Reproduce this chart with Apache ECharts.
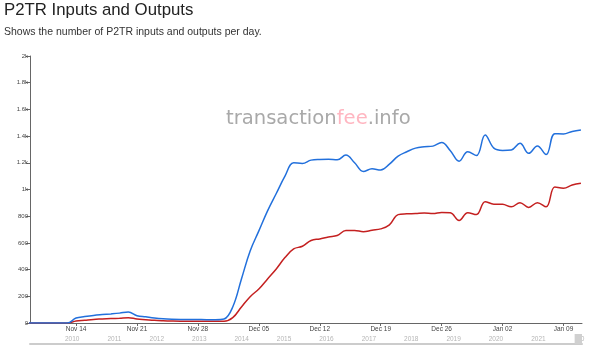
<!DOCTYPE html>
<html>
<head>
<meta charset="utf-8">
<script src="https://cdn.jsdelivr.net/npm/echarts@6/dist/echarts.min.js"></script>
<style>
html, body { margin: 0; padding: 0; background: #fff; }
#chart { width: 602px; height: 355px; }
</style>
</head>
<body>
<div id="chart"></div>
<script>
// daily values, Nov 8 2021 .. Jan 11 2022
var firstDay = '2021-11-08';
var outputs = [0, 0, 0, 0, 0, 0,
	37, 48, 57, 63, 68, 74, 82, 55, 46, 37, 31, 28, 27, 27, 26, 25, 25,
	30, 120, 330, 540, 690, 840, 970, 1100, 1200, 1195, 1220, 1225, 1226, 1222, 1258, 1200, 1135, 1155,
	1146, 1190, 1250, 1283, 1310, 1320, 1325, 1352, 1290, 1212, 1283, 1255, 1408,
	1310, 1293, 1296, 1346, 1271, 1326, 1262, 1418, 1416, 1435, 1446];
var inputs = [0, 0, 0, 0, 0, 0,
	15, 21, 27, 30, 33, 36, 40, 30, 25, 20, 17, 15, 14, 14, 14, 13, 13,
	13, 40, 120, 197, 255, 330, 405, 490, 555, 575, 618, 630, 645, 655, 693, 693, 684, 695,
	705, 735, 812, 818, 820, 824, 820, 828, 825, 768, 826, 812, 909,
	890, 889, 870, 901, 866, 901, 870, 1018, 1009, 1033, 1046];

var weekTicks = ['2021-11-14', '2021-11-21', '2021-11-28', '2021-12-05', '2021-12-12',
	'2021-12-19', '2021-12-26', '2022-01-02', '2022-01-09'];
var yearTicks = ['2010-01-01', '2011-01-01', '2012-01-01', '2013-01-01', '2014-01-01', '2015-01-01',
	'2016-01-01', '2017-01-01', '2018-01-01', '2019-01-01', '2020-01-01', '2021-01-01', '2022-01-01'];

// visible window and full history range
var windowStart = Date.UTC(2021, 10, 8, 17);
var windowEnd = Date.UTC(2022, 0, 11, 3);
var historyStart = Date.UTC(2009, 0, 3);
var historyEnd = Date.UTC(2022, 0, 11, 3);

var monthNames = ['Jan', 'Feb', 'Mar', 'Apr', 'May', 'Jun', 'Jul', 'Aug', 'Sep', 'Oct', 'Nov', 'Dec'];

function toTime(s) {
	var p = s.split('-');
	return Date.UTC(+p[0], +p[1] - 1, +p[2]);
}

function makeSeries(values) {
	var t0 = toTime(firstDay);
	var out = [];
	for (var i = 0; i < values.length; i++) {
		out.push([t0 + i * 86400000, values[i]]);
	}
	return out;
}

var chart = echarts.init(document.getElementById('chart'));

var option = {
	animation: false,
	title: {
		text: 'P2TR Inputs and Outputs',
		subtext: 'Shows the number of P2TR inputs and outputs per day.',
		left: 4,
		top: 2,
		padding: 0,
		itemGap: 8,
		textStyle: { fontFamily: 'Liberation Sans', fontSize: 16.8, fontWeight: 'normal', color: '#222' },
		subtextStyle: { fontFamily: 'Liberation Sans', fontSize: 10.5, color: '#333' }
	},
	graphic: [{
		type: 'text',
		left: 226,
		top: 109,
		silent: true,
		style: {
			text: '{a|transaction}{b|fee}{a|.info}',
			rich: {
				a: { fontFamily: 'DejaVu Sans', fontSize: 19.6, fill: '#a9a9a9' },
				b: { fontFamily: 'DejaVu Sans', fontSize: 19.6, fill: '#ffb6c1' }
			}
		}
	}],
	grid: [
		{ left: 30, right: 20, top: 56, bottom: 32 },
		{ left: 30, right: 20, top: 334, height: 10 }
	],
	xAxis: [{
		type: 'value',
		gridIndex: 0,
		min: windowStart,
		max: windowEnd,
		axisLine: { lineStyle: { color: '#666' } },
		axisTick: { customValues: weekTicks.map(toTime), length: 3, lineStyle: { color: '#666' } },
		axisLabel: {
			customValues: weekTicks.map(toTime),
			fontSize: 6.5,
			color: '#444',
			margin: 3,
			formatter: function (v) {
				var d = new Date(v);
				var dd = d.getUTCDate();
				return monthNames[d.getUTCMonth()] + ' ' + (dd < 10 ? '0' + dd : dd);
			}
		},
		splitLine: { show: false }
	}, {
		type: 'value',
		gridIndex: 1,
		min: historyStart,
		max: historyEnd,
		axisLine: { lineStyle: { color: '#cccccc', width: 2 } },
		axisTick: { show: false },
		axisLabel: {
			customValues: yearTicks.map(toTime),
			inside: true,
			margin: 1,
			fontSize: 6.5,
			color: '#b5b5b5',
			formatter: function (v) {
				var y = String(new Date(v).getUTCFullYear());
				return y === '2022' ? '20' : y;
			}
		},
		splitLine: { show: false }
	}],
	yAxis: [{
		type: 'value',
		gridIndex: 0,
		min: 0,
		max: 2000,
		interval: 200,
		axisLine: { show: true, lineStyle: { color: '#666' } },
		axisTick: { show: true, length: 4, lineStyle: { color: '#666' } },
		axisLabel: {
			fontSize: 6,
			color: '#444',
			margin: 2,
			formatter: function (v) { return v >= 1000 ? (v / 1000) + 'k' : v; }
		},
		splitLine: { show: false }
	}, {
		type: 'value',
		gridIndex: 1,
		min: 0,
		max: 1,
		show: false
	}],
	series: [{
		name: 'Inputs',
		type: 'line',
		smooth: 0.4,
		showSymbol: false,
		data: makeSeries(inputs),
		lineStyle: { color: '#c42020', width: 1.5 },
		itemStyle: { color: '#c42020' }
	}, {
		name: 'Outputs',
		type: 'line',
		smooth: 0.4,
		showSymbol: false,
		data: makeSeries(outputs),
		lineStyle: { color: '#2270dc', width: 1.5 },
		itemStyle: { color: '#2270dc' }
	}, {
		name: 'range',
		type: 'line',
		xAxisIndex: 1,
		yAxisIndex: 1,
		silent: true,
		showSymbol: false,
		lineStyle: { opacity: 0 },
		data: [[windowStart, 0], [windowEnd, 0]],
		markArea: {
			silent: true,
			itemStyle: { color: '#d0d0d0' },
			data: [[{ xAxis: windowStart }, { xAxis: windowEnd }]]
		}
	}]
};

chart.setOption(option);
</script>
</body>
</html>
